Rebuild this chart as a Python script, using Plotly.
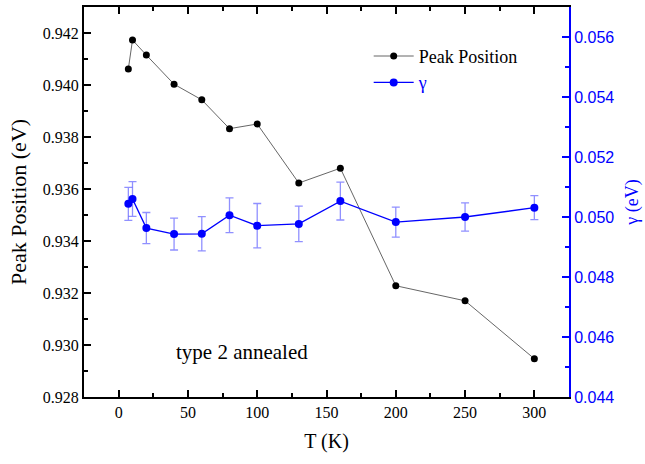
import plotly.graph_objects as go

# Temperature series (K)
temperature = [7, 10, 20, 40, 60, 80, 100, 130, 160, 200, 250, 300]

# Peak position (eV)
peak_position = [0.94062, 0.94173, 0.94115, 0.94003, 0.93943, 0.93832,
                 0.93850, 0.93623, 0.93680, 0.93228, 0.93170, 0.92947]

# Broadening gamma (eV) and its uncertainty
gamma = [0.05044, 0.05060, 0.04963, 0.04943, 0.04944, 0.05006,
         0.04971, 0.04977, 0.05053, 0.04983, 0.05000, 0.05031]
gamma_err = [0.00055, 0.00058, 0.00052, 0.00053, 0.00057, 0.00058,
             0.00074, 0.00059, 0.00063, 0.00050, 0.00047, 0.00040]

SERIF = "Liberation Serif"
SANS = "Liberation Sans"
BLUE = "#0000ff"

fig = go.Figure()

fig.add_trace(go.Scatter(
    x=temperature, y=peak_position, name="Peak Position",
    mode="lines+markers",
    line=dict(color="#555555", width=0.9),
    marker=dict(color="black", size=7),
))

fig.add_trace(go.Scatter(
    x=temperature, y=gamma, name='<span style="color:#0000ff">γ</span>',
    yaxis="y2", mode="lines+markers",
    line=dict(color=BLUE, width=1.3),
    marker=dict(color=BLUE, size=8),
    error_y=dict(type="data", array=gamma_err, visible=True,
                 color="rgba(70,70,255,0.6)", thickness=1.3, width=4),
))

fig.add_annotation(
    x=0.326, y=0.115, xref="paper", yref="paper",
    xanchor="center", yanchor="middle",
    text="type 2 annealed", showarrow=False,
    font=dict(family=SERIF, size=21, color="black"),
)

fig.update_layout(
    width=645, height=464,
    margin=dict(l=84, r=76, t=7, b=67, autoexpand=False),
    plot_bgcolor="white", paper_bgcolor="white",
    showlegend=True,
    legend=dict(
        x=0.587, y=0.921, xanchor="left", yanchor="top",
        bgcolor="rgba(0,0,0,0)",
        font=dict(family=SERIF, size=18, color="black"),
        tracegroupgap=0, itemwidth=40,
    ),
    xaxis=dict(
        range=[-25, 325], dtick=50, tick0=0,
        showline=True, linecolor="black", linewidth=2, mirror="ticks",
        ticks="inside", ticklen=7, tickwidth=1.5, tickcolor="black",
        minor=dict(dtick=25, tick0=0, ticks="inside", ticklen=4, tickwidth=1.5, tickcolor="black"),
        showgrid=False, zeroline=False,
        tickfont=dict(family=SERIF, size=16, color="black"),
        title=dict(text="T (K)", font=dict(family=SERIF, size=20, color="black"), standoff=14),
    ),
    yaxis=dict(
        range=[0.928, 0.943], dtick=0.002, tick0=0.928, tickformat=".3f",
        showline=True, linecolor="black", linewidth=2,
        ticks="inside", ticklen=7, tickwidth=1.5, tickcolor="black",
        minor=dict(dtick=0.001, ticks="inside", ticklen=4, tickwidth=1.5, tickcolor="black"),
        showgrid=False, zeroline=False,
        tickfont=dict(family=SERIF, size=16, color="black"),
        title=dict(text="Peak Position (eV)", font=dict(family=SERIF, size=22, color="black"), standoff=10),
    ),
    yaxis2=dict(
        range=[0.044, 0.057], dtick=0.002, tick0=0.044, tickformat=".3f",
        overlaying="y", side="right",
        showline=True, linecolor=BLUE, linewidth=2,
        ticks="inside", ticklen=7, tickwidth=1.5, tickcolor=BLUE,
        minor=dict(dtick=0.001, ticks="inside", ticklen=4, tickwidth=1.5, tickcolor=BLUE),
        showgrid=False, zeroline=False,
        tickfont=dict(family=SANS, size=16, color=BLUE),
        title=dict(text="γ (eV)", font=dict(family=SERIF, size=18, color=BLUE), standoff=12),
    ),
)

fig.write_html("out.html")
